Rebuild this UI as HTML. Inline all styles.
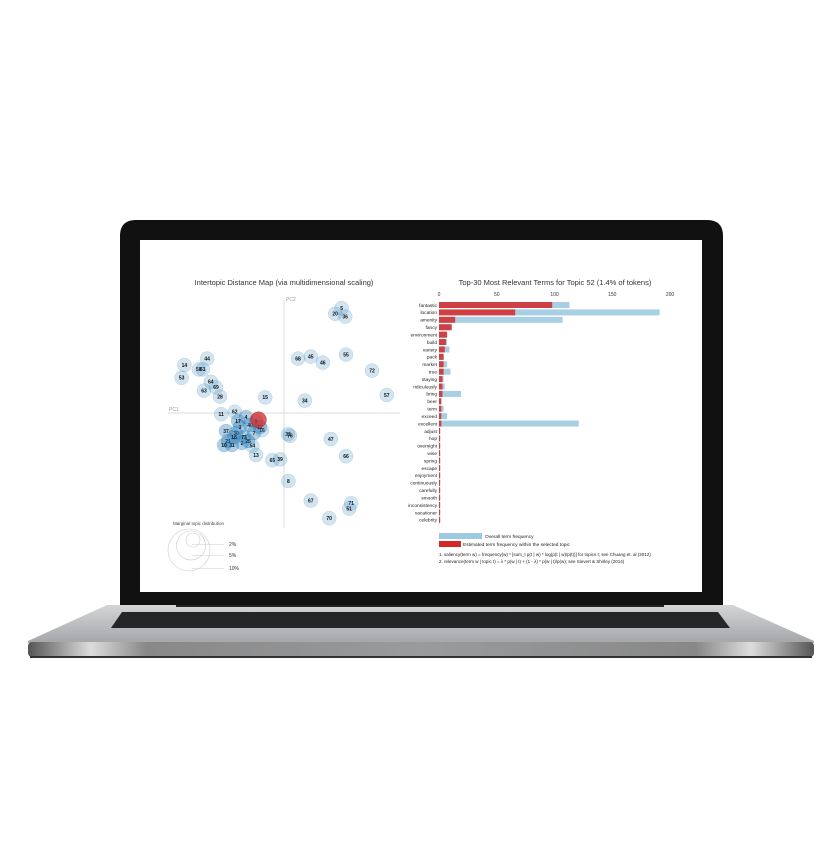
<!DOCTYPE html>
<html><head><meta charset="utf-8"><style>
html,body{margin:0;padding:0;background:#fff;}
svg{display:block;font-family:"Liberation Sans",sans-serif;}
</style></head><body>
<svg id="root" width="840" height="859" viewBox="0 0 840 859">
<defs>
<linearGradient id="deck" x1="0" y1="0" x2="0" y2="1"><stop offset="0" stop-color="#d4d5d7"/><stop offset="1" stop-color="#a4a6a9"/></linearGradient>
<linearGradient id="edge" x1="0" y1="0" x2="1" y2="0"><stop offset="0" stop-color="#555"/><stop offset="0.08" stop-color="#ddd"/><stop offset="0.15" stop-color="#888"/><stop offset="0.5" stop-color="#9a9b9d"/><stop offset="0.85" stop-color="#888"/><stop offset="0.92" stop-color="#ddd"/><stop offset="1" stop-color="#555"/></linearGradient>
</defs>
<path d="M107,605 L733,605 L814,641 L814,643 L28,643 L28,641 Z" fill="url(#deck)"/>
<rect x="28" y="642" width="786" height="15" rx="4" fill="url(#edge)"/>
<rect x="30" y="656" width="782" height="2" fill="#333"/>
<path d="M122,612 L718,612 L730,628 L111,628 Z" fill="#252628"/>
<rect x="176" y="603" width="488" height="4" fill="#222"/>
<path d="M120,236 Q120,220 136,220 L707,220 Q723,220 723,236 L723,605 L120,605 Z" fill="#111"/>
<rect x="140" y="240" width="562" height="352" fill="#fff"/>
<g id="scatter"></g>
<g id="bars"></g>
</svg>
<script>
const NS="http://www.w3.org/2000/svg";
function mk(p,t,a,txt){const e=document.createElementNS(NS,t);for(const k in a)e.setAttribute(k,a[k]);if(txt!==undefined)e.textContent=txt;p.appendChild(e);return e;}

const topicIds=["5","20","36","68","45","46","55","72","57","34","15","44","14","58","61","53","64","69","63","28","11","62","16","32","76","47","54","13","65","39","66","8","67","71","51","70",
"37","30","2","25","73","21","31","40","9","3","4","7","10","12","17","18"];
const pc1=[0.144,0.128,0.153,0.035,0.067,0.097,0.155,0.22,0.257,0.052,-0.047,-0.192,-0.249,-0.213,-0.203,-0.256,-0.183,-0.17,-0.2,-0.16,-0.157,-0.123,-0.055,0.01,0.015,0.117,-0.079,-0.07,-0.029,-0.01,0.155,0.011,0.067,0.168,0.163,0.113,
-0.145,-0.12,-0.105,-0.09,-0.1,-0.14,-0.13,-0.085,-0.07,-0.11,-0.095,-0.075,-0.15,-0.06,-0.115,-0.125];
const pc2=[0.262,0.248,0.241,0.136,0.141,0.126,0.146,0.106,0.045,0.031,0.039,0.136,0.12,0.109,0.109,0.088,0.078,0.064,0.056,0.041,-0.003,0.003,-0.043,-0.053,-0.057,-0.065,-0.082,-0.105,-0.118,-0.116,-0.108,-0.17,-0.219,-0.226,-0.239,-0.263,
-0.045,-0.05,-0.075,-0.07,-0.06,-0.07,-0.08,-0.03,-0.02,-0.035,-0.01,-0.05,-0.08,-0.035,-0.02,-0.06];
const selectedTopic="52", selPC1=-0.064, selPC2=-0.017;
const sx=v=>284+v*400, sy=v=>413-v*400;
const sc=document.getElementById('scatter');
let t=mk(sc,'text',{x:284,y:285,'font-size':7.5,'text-anchor':'middle',fill:'#333'},'Intertopic Distance Map (via multidimensional scaling)');

let l=mk(sc,'line',{x1:sx(0),y1:300,x2:sx(0),y2:528,stroke:'#ddd','stroke-width':1});

l=mk(sc,'line',{x1:168,y1:sy(0),x2:400,y2:sy(0),stroke:'#ddd','stroke-width':1});

t=mk(sc,'text',{x:286,y:301,'font-size':5,fill:'#999'},'PC2');
t=mk(sc,'text',{x:169,y:411,'font-size':5,fill:'#999'},'PC1');
topicIds.forEach((id,i)=>{
  const dense=i>=36;
  const c=mk(sc,'circle',{cx:sx(pc1[i]),cy:sy(pc2[i]),r:7,fill:dense?'rgba(31,119,180,0.35)':'rgba(31,119,180,0.2)',stroke:'rgba(31,119,180,0.25)','stroke-width':0.5});
  
  
  const tx=mk(sc,'text',{x:sx(pc1[i]),y:sy(pc2[i])+1.8,'font-size':5,'font-weight':'bold','text-anchor':'middle',fill:'#111'},id);
  
  
});
let rc=mk(sc,'circle',{cx:sx(selPC1),cy:sy(selPC2),r:8,fill:'rgba(214,39,40,0.75)',stroke:'#b33','stroke-width':0.5});

t=mk(sc,'text',{x:173,y:525,'font-size':4.5,fill:'#444'},'Marginal topic distribution');
const legPct=["2%","5%","10%"], legR=[7,14.5,21], legY=[546,557,570];
legPct.forEach((p,i)=>{
  const c=mk(sc,'circle',{cx:193-i*2,cy:533+legR[i]-i*2,r:legR[i],fill:'none',stroke:'#ccc','stroke-width':0.6});
  
  mk(sc,'line',{x1:192,y1:legY[i]-1.5,x2:224,y2:legY[i]-1.5,stroke:'#ccc','stroke-width':0.5});
  const tx=mk(sc,'text',{x:229,y:legY[i],'font-size':5,fill:'#333'},p);
  
});

const terms=["fantastic","location","amenity","fancy","environment","build","variety","pack","market","true","staying","ridiculously","bring","beer","term","exceed","excellent","adjust","hop","overnight","wise","spring","escape","enjoyment","continuously","carefully","smooth","inconsistency","vacationer","celebrity"];
const overall=[113,191,107,11,7,7,9,4,7,10,4,5,19,2,4,7,121,1,1,1,1,1,1,1,1,1,1,1,1,1];
const estimated=[98,66,14,11,7,6,5,4,4,4,3,3,3,2,2,2,2,1,1,1,1,1,1,1,1,1,1,1,1,1];
const ticks=[0,50,100,150,200];
const bx=v=>439+v*1.155, by=i=>305+i*7.41;
const bg=document.getElementById('bars');
t=mk(bg,'text',{x:555,y:285,'font-size':7.5,'text-anchor':'middle',fill:'#333'},'Top-30 Most Relevant Terms for Topic 52 (1.4% of tokens)');

ticks.forEach(v=>{
  const tx=mk(bg,'text',{x:bx(v),y:296,'font-size':5,'text-anchor':'middle',fill:'#333'},String(v));
  
});
terms.forEach((term,i)=>{
  const y=by(i);
  const b=mk(bg,'rect',{x:bx(0),y:y-3,width:bx(overall[i])-bx(0),height:6,fill:'#9ecae1','fill-opacity':0.9});
  
  const r=mk(bg,'rect',{x:bx(0),y:y-3,width:Math.max(1,bx(estimated[i])-bx(0)),height:6,fill:'#d62728','fill-opacity':0.85});
  
  const tx=mk(bg,'text',{x:437,y:y+1.8,'font-size':4.8,'text-anchor':'end',fill:'#222'},term);
  
});
let lb=mk(bg,'rect',{x:439,y:533,width:43,height:6,fill:'#9ecae1'});
t=mk(bg,'text',{x:485,y:538,'font-size':4.8,fill:'#222'},'Overall term frequency');
lb=mk(bg,'rect',{x:439,y:541,width:22,height:6,fill:'#d62728'});
t=mk(bg,'text',{x:463,y:546,'font-size':4.8,fill:'#222'},'Estimated term frequency within the selected topic');
t=mk(bg,'text',{x:439,y:556,'font-size':4.5,fill:'#222'},'1. saliency(term w) = frequency(w) * [sum_t p(t | w) * log(p(t | w)/p(t))] for topics t; see Chuang et. al (2012)');

t=mk(bg,'text',{x:439,y:563,'font-size':4.5,fill:'#222'},'2. relevance(term w | topic t) = λ * p(w | t) + (1 - λ) * p(w | t)/p(w); see Sievert & Shirley (2014)');

</script>
</body></html>
